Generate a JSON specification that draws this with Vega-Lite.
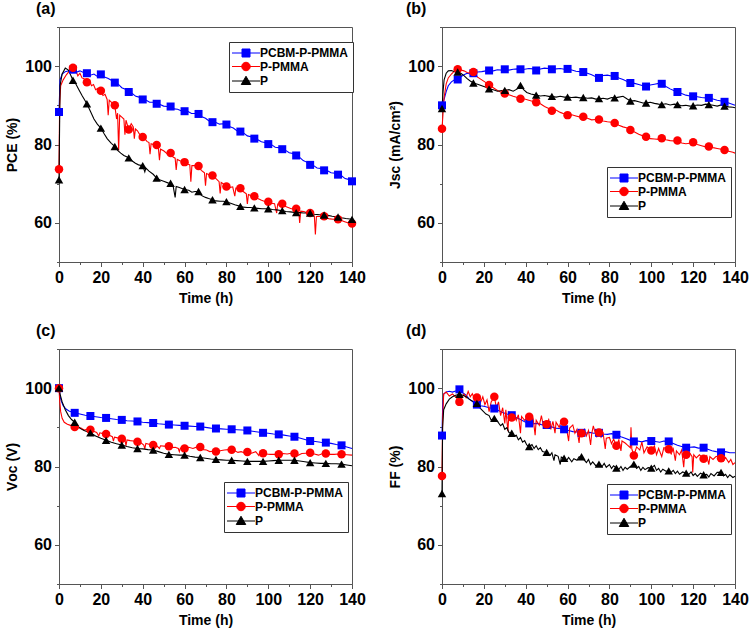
{
"$schema":"https://vega.github.io/schema/vega-lite/v6.json",
"padding":{"left":5,"top":0,"right":5,"bottom":5},
"config":{
 "font":"Liberation Sans",
 "view":{"stroke":"#555","strokeWidth":1},
 "axis":{"labelFont":"Liberation Sans","labelFontSize":16,"labelFontWeight":"bold","labelColor":"#000","titleFont":"Liberation Sans","titleFontSize":14,"titleFontWeight":"bold","titleColor":"#000","domainColor":"#555","tickColor":"#555","grid":false,"labelPadding":3,"labelFlush":false,"labelOverlap":false},
 "axisX":{"titlePadding":6},
 "axisY":{"titlePadding":5},
 "legend":{"padding":5,"strokeColor":"#333","fillColor":"white","labelFont":"Liberation Sans","labelFontSize":12,"labelFontWeight":"bold","labelColor":"#000","symbolSize":100,"symbolStrokeWidth":1,"rowPadding":0.5,"symbolOffset":6,"labelOffset":8,"title":null,"symbolOpacity":1},
 "title":{"fontSize":16,"fontWeight":"bold","font":"Liberation Sans","anchor":"start","frame":"group","offset":2,"color":"#000"}
},
"resolve":{"scale":{"color":"independent","stroke":"independent","shape":"independent"},"legend":{"color":"independent","stroke":"independent","shape":"independent"}},
"datasets":{
"a":[
{"s":"PCBM-P-PMMA","t":0,"v":88.3,"m":1},{"s":"PCBM-P-PMMA","t":0.5,"v":96.5},{"s":"PCBM-P-PMMA","t":1.5,"v":98},{"s":"PCBM-P-PMMA","t":3,"v":98.6},{"s":"PCBM-P-PMMA","t":5,"v":98.9},{"s":"PCBM-P-PMMA","t":6.67,"v":99.1,"m":1},{"s":"PCBM-P-PMMA","t":8.5,"v":98.5},{"s":"PCBM-P-PMMA","t":10,"v":98.8},{"s":"PCBM-P-PMMA","t":11.7,"v":98.4},{"s":"PCBM-P-PMMA","t":13.33,"v":98.2,"m":1},{"s":"PCBM-P-PMMA","t":15,"v":97.7},{"s":"PCBM-P-PMMA","t":16.7,"v":98.0},{"s":"PCBM-P-PMMA","t":18.3,"v":97.4},{"s":"PCBM-P-PMMA","t":20,"v":97.9,"m":1},{"s":"PCBM-P-PMMA","t":21.7,"v":97.2},{"s":"PCBM-P-PMMA","t":23.3,"v":96.9},{"s":"PCBM-P-PMMA","t":25,"v":96.4},{"s":"PCBM-P-PMMA","t":26.67,"v":95.8,"m":1},{"s":"PCBM-P-PMMA","t":28.3,"v":95.4},{"s":"PCBM-P-PMMA","t":30,"v":94.5},{"s":"PCBM-P-PMMA","t":31.7,"v":94.1},{"s":"PCBM-P-PMMA","t":33.33,"v":93.4,"m":1},{"s":"PCBM-P-PMMA","t":35,"v":93.0},{"s":"PCBM-P-PMMA","t":36.7,"v":92.3},{"s":"PCBM-P-PMMA","t":38.3,"v":92.1},{"s":"PCBM-P-PMMA","t":40,"v":91.5,"m":1},{"s":"PCBM-P-PMMA","t":41.7,"v":91.3},{"s":"PCBM-P-PMMA","t":43.3,"v":90.8},{"s":"PCBM-P-PMMA","t":45,"v":90.8},{"s":"PCBM-P-PMMA","t":46.67,"v":90.4,"m":1},{"s":"PCBM-P-PMMA","t":48.3,"v":90.2},{"s":"PCBM-P-PMMA","t":50,"v":89.8},{"s":"PCBM-P-PMMA","t":51.7,"v":89.7},{"s":"PCBM-P-PMMA","t":53.33,"v":89.7,"m":1},{"s":"PCBM-P-PMMA","t":55,"v":89.1},{"s":"PCBM-P-PMMA","t":56.7,"v":89.0},{"s":"PCBM-P-PMMA","t":58.3,"v":88.6},{"s":"PCBM-P-PMMA","t":60,"v":88.5,"m":1},{"s":"PCBM-P-PMMA","t":61.7,"v":88.4},{"s":"PCBM-P-PMMA","t":63.3,"v":87.9},{"s":"PCBM-P-PMMA","t":65,"v":87.9},{"s":"PCBM-P-PMMA","t":66.67,"v":87.8,"m":1},{"s":"PCBM-P-PMMA","t":68.3,"v":87.1},{"s":"PCBM-P-PMMA","t":70,"v":86.7},{"s":"PCBM-P-PMMA","t":71.7,"v":86.0},{"s":"PCBM-P-PMMA","t":73.33,"v":85.7,"m":1},{"s":"PCBM-P-PMMA","t":75,"v":85.6},{"s":"PCBM-P-PMMA","t":76.7,"v":85.2},{"s":"PCBM-P-PMMA","t":78.3,"v":85.3},{"s":"PCBM-P-PMMA","t":80,"v":85.1,"m":1},{"s":"PCBM-P-PMMA","t":81.7,"v":84.5},{"s":"PCBM-P-PMMA","t":83.3,"v":84.2},{"s":"PCBM-P-PMMA","t":85,"v":83.5},{"s":"PCBM-P-PMMA","t":86.67,"v":83.3,"m":1},{"s":"PCBM-P-PMMA","t":88.3,"v":82.9},{"s":"PCBM-P-PMMA","t":90,"v":82.2},{"s":"PCBM-P-PMMA","t":91.7,"v":82.0},{"s":"PCBM-P-PMMA","t":93.33,"v":81.5,"m":1},{"s":"PCBM-P-PMMA","t":95,"v":81.2},{"s":"PCBM-P-PMMA","t":96.7,"v":80.7},{"s":"PCBM-P-PMMA","t":98.3,"v":80.5},{"s":"PCBM-P-PMMA","t":100,"v":80.1,"m":1},{"s":"PCBM-P-PMMA","t":101.7,"v":79.9},{"s":"PCBM-P-PMMA","t":103.3,"v":79.3},{"s":"PCBM-P-PMMA","t":105,"v":79.2},{"s":"PCBM-P-PMMA","t":106.67,"v":78.8,"m":1},{"s":"PCBM-P-PMMA","t":108.3,"v":78.5},{"s":"PCBM-P-PMMA","t":110,"v":77.9},{"s":"PCBM-P-PMMA","t":111.7,"v":77.7},{"s":"PCBM-P-PMMA","t":113.33,"v":77.2,"m":1},{"s":"PCBM-P-PMMA","t":115,"v":76.7},{"s":"PCBM-P-PMMA","t":116.7,"v":75.9},{"s":"PCBM-P-PMMA","t":118.3,"v":75.5},{"s":"PCBM-P-PMMA","t":120,"v":74.8,"m":1},{"s":"PCBM-P-PMMA","t":121.7,"v":74.6},{"s":"PCBM-P-PMMA","t":123.3,"v":74.0},{"s":"PCBM-P-PMMA","t":125,"v":73.9},{"s":"PCBM-P-PMMA","t":126.67,"v":73.4,"m":1},{"s":"PCBM-P-PMMA","t":128.3,"v":73.3},{"s":"PCBM-P-PMMA","t":130,"v":72.8},{"s":"PCBM-P-PMMA","t":131.7,"v":72.7},{"s":"PCBM-P-PMMA","t":133.33,"v":72.3,"m":1},{"s":"PCBM-P-PMMA","t":135,"v":72.0},{"s":"PCBM-P-PMMA","t":136.7,"v":71.3},{"s":"PCBM-P-PMMA","t":138.3,"v":71.1},{"s":"PCBM-P-PMMA","t":140,"v":70.6,"m":1},
{"s":"P-PMMA","t":0,"v":73.7,"m":1},{"s":"P-PMMA","t":0.3,"v":90},{"s":"P-PMMA","t":0.8,"v":95},{"s":"P-PMMA","t":2,"v":96.5},{"s":"P-PMMA","t":3.5,"v":97.8},{"s":"P-PMMA","t":5,"v":98.8},{"s":"P-PMMA","t":6.67,"v":99.6,"m":1},{"s":"P-PMMA","t":8,"v":99.0},{"s":"P-PMMA","t":9,"v":97.5},{"s":"P-PMMA","t":10,"v":98.2},{"s":"P-PMMA","t":11,"v":97.0},{"s":"P-PMMA","t":12,"v":96.8},{"s":"P-PMMA","t":13.33,"v":95.9,"m":1},{"s":"P-PMMA","t":14.5,"v":96.5},{"s":"P-PMMA","t":15.5,"v":95.0},{"s":"P-PMMA","t":16.5,"v":95.3},{"s":"P-PMMA","t":17.5,"v":94.0},{"s":"P-PMMA","t":18.5,"v":94.3},{"s":"P-PMMA","t":20,"v":93.7,"m":1},{"s":"P-PMMA","t":21,"v":92.5},{"s":"P-PMMA","t":22,"v":92.8},{"s":"P-PMMA","t":23,"v":91.5},{"s":"P-PMMA","t":23.5,"v":87.5},{"s":"P-PMMA","t":24,"v":91.3},{"s":"P-PMMA","t":25,"v":90.8},{"s":"P-PMMA","t":26.67,"v":90.0,"m":1},{"s":"P-PMMA","t":27.5,"v":86.5},{"s":"P-PMMA","t":28,"v":88.0},{"s":"P-PMMA","t":28.5,"v":78.5},{"s":"P-PMMA","t":29,"v":87.5},{"s":"P-PMMA","t":30,"v":87.0},{"s":"P-PMMA","t":31,"v":86.5},{"s":"P-PMMA","t":31.5,"v":82.5},{"s":"P-PMMA","t":32,"v":86.2},{"s":"P-PMMA","t":33.33,"v":83.8,"m":1},{"s":"P-PMMA","t":34.5,"v":85.3},{"s":"P-PMMA","t":35.5,"v":84.5},{"s":"P-PMMA","t":36,"v":81.5},{"s":"P-PMMA","t":36.5,"v":84.0},{"s":"P-PMMA","t":37.5,"v":83.5},{"s":"P-PMMA","t":38.5,"v":82.6},{"s":"P-PMMA","t":40,"v":81.9,"m":1},{"s":"P-PMMA","t":41,"v":81.5},{"s":"P-PMMA","t":42,"v":80.8},{"s":"P-PMMA","t":43,"v":80.5},{"s":"P-PMMA","t":43.5,"v":77.5},{"s":"P-PMMA","t":44,"v":80.2},{"s":"P-PMMA","t":45,"v":80.0},{"s":"P-PMMA","t":46.67,"v":79.9,"m":1},{"s":"P-PMMA","t":47.5,"v":79.0},{"s":"P-PMMA","t":48,"v":76.0},{"s":"P-PMMA","t":48.5,"v":78.8},{"s":"P-PMMA","t":50,"v":78.4},{"s":"P-PMMA","t":51.5,"v":77.7},{"s":"P-PMMA","t":53.33,"v":77.8,"m":1},{"s":"P-PMMA","t":54.5,"v":76.8},{"s":"P-PMMA","t":55.5,"v":76.5},{"s":"P-PMMA","t":56,"v":73.5},{"s":"P-PMMA","t":56.5,"v":76.2},{"s":"P-PMMA","t":58,"v":75.8},{"s":"P-PMMA","t":60,"v":75.5,"m":1},{"s":"P-PMMA","t":61.5,"v":75.0},{"s":"P-PMMA","t":62.5,"v":74.8},{"s":"P-PMMA","t":63,"v":70.5},{"s":"P-PMMA","t":63.5,"v":74.6},{"s":"P-PMMA","t":65,"v":74.6},{"s":"P-PMMA","t":66.67,"v":74.5,"m":1},{"s":"P-PMMA","t":68,"v":73.4},{"s":"P-PMMA","t":69.5,"v":72.8},{"s":"P-PMMA","t":70,"v":69.5},{"s":"P-PMMA","t":70.5,"v":72.6},{"s":"P-PMMA","t":72,"v":72.2},{"s":"P-PMMA","t":73.33,"v":72.1,"m":1},{"s":"P-PMMA","t":75,"v":71.3},{"s":"P-PMMA","t":76.5,"v":70.5},{"s":"P-PMMA","t":77,"v":67.5},{"s":"P-PMMA","t":77.5,"v":70.3},{"s":"P-PMMA","t":79,"v":69.8},{"s":"P-PMMA","t":80,"v":69.3,"m":1},{"s":"P-PMMA","t":81.5,"v":69.0},{"s":"P-PMMA","t":83,"v":69.2},{"s":"P-PMMA","t":84,"v":66.8},{"s":"P-PMMA","t":84.5,"v":68.9},{"s":"P-PMMA","t":86.67,"v":68.8,"m":1},{"s":"P-PMMA","t":88,"v":68.0},{"s":"P-PMMA","t":89.5,"v":67.4},{"s":"P-PMMA","t":90,"v":64.8},{"s":"P-PMMA","t":90.5,"v":67.2},{"s":"P-PMMA","t":92,"v":66.9},{"s":"P-PMMA","t":93.33,"v":66.8,"m":1},{"s":"P-PMMA","t":95,"v":66.2},{"s":"P-PMMA","t":96.5,"v":65.8},{"s":"P-PMMA","t":98,"v":65.5},{"s":"P-PMMA","t":100,"v":65.4,"m":1},{"s":"P-PMMA","t":101.5,"v":65.0},{"s":"P-PMMA","t":103,"v":64.9},{"s":"P-PMMA","t":104,"v":62.5},{"s":"P-PMMA","t":104.5,"v":64.8},{"s":"P-PMMA","t":106.67,"v":64.9,"m":1},{"s":"P-PMMA","t":108,"v":64.2},{"s":"P-PMMA","t":109.5,"v":63.9},{"s":"P-PMMA","t":111,"v":63.6},{"s":"P-PMMA","t":113.33,"v":63.6,"m":1},{"s":"P-PMMA","t":114.5,"v":63.2},{"s":"P-PMMA","t":115,"v":60.0},{"s":"P-PMMA","t":115.5,"v":63.0},{"s":"P-PMMA","t":117,"v":62.9},{"s":"P-PMMA","t":118.5,"v":62.6},{"s":"P-PMMA","t":120,"v":62.5,"m":1},{"s":"P-PMMA","t":121,"v":62.0},{"s":"P-PMMA","t":122,"v":61.8},{"s":"P-PMMA","t":122.5,"v":57.0},{"s":"P-PMMA","t":123,"v":61.6},{"s":"P-PMMA","t":125,"v":61.6},{"s":"P-PMMA","t":126.67,"v":61.7,"m":1},{"s":"P-PMMA","t":128,"v":61.2},{"s":"P-PMMA","t":129.5,"v":61.0},{"s":"P-PMMA","t":131,"v":60.9},{"s":"P-PMMA","t":133.33,"v":60.9,"m":1},{"s":"P-PMMA","t":135,"v":60.6},{"s":"P-PMMA","t":136.5,"v":60.3},{"s":"P-PMMA","t":138,"v":60.0},{"s":"P-PMMA","t":140,"v":59.8,"m":1},
{"s":"P","t":0,"v":71.0,"m":1},{"s":"P","t":0.5,"v":95.0},{"s":"P","t":1.5,"v":98.0},{"s":"P","t":3,"v":99.5},{"s":"P","t":4.5,"v":99.0},{"s":"P","t":6.67,"v":96.4,"m":1},{"s":"P","t":8,"v":95.5},{"s":"P","t":9.5,"v":94.0},{"s":"P","t":11,"v":92.5},{"s":"P","t":13.33,"v":90.4,"m":1},{"s":"P","t":15,"v":88.5},{"s":"P","t":16.7,"v":86.5},{"s":"P","t":18.3,"v":85.2},{"s":"P","t":20,"v":84.2,"m":1},{"s":"P","t":21.5,"v":82.8},{"s":"P","t":23,"v":81.5},{"s":"P","t":25,"v":80.3},{"s":"P","t":26.67,"v":79.5,"m":1},{"s":"P","t":28,"v":78.5},{"s":"P","t":29.5,"v":77.8},{"s":"P","t":31,"v":77.2},{"s":"P","t":33.33,"v":76.6,"m":1},{"s":"P","t":35,"v":75.8},{"s":"P","t":36.5,"v":75.2},{"s":"P","t":38,"v":74.8},{"s":"P","t":40,"v":74.6,"m":1},{"s":"P","t":41,"v":73.0},{"s":"P","t":41.5,"v":74.0},{"s":"P","t":43,"v":73.2},{"s":"P","t":45,"v":72.4},{"s":"P","t":46.67,"v":71.4,"m":1},{"s":"P","t":48,"v":71.0},{"s":"P","t":50,"v":70.6},{"s":"P","t":52,"v":70.2},{"s":"P","t":53.33,"v":70.1,"m":1},{"s":"P","t":54.5,"v":69.5},{"s":"P","t":55.5,"v":66.5},{"s":"P","t":56,"v":69.3},{"s":"P","t":57.5,"v":69.0},{"s":"P","t":60,"v":68.5,"m":1},{"s":"P","t":62,"v":68.3},{"s":"P","t":63.5,"v":67.8},{"s":"P","t":65,"v":68.0},{"s":"P","t":66.67,"v":68.0,"m":1},{"s":"P","t":68,"v":67.0},{"s":"P","t":70,"v":66.5},{"s":"P","t":71.5,"v":66.2},{"s":"P","t":73.33,"v":65.9,"m":1},{"s":"P","t":75,"v":65.6},{"s":"P","t":77,"v":65.5},{"s":"P","t":78.5,"v":65.5},{"s":"P","t":80,"v":65.4,"m":1},{"s":"P","t":82,"v":65.0},{"s":"P","t":84,"v":64.6},{"s":"P","t":86.67,"v":64.2,"m":1},{"s":"P","t":88,"v":64.0},{"s":"P","t":90,"v":63.9},{"s":"P","t":91.5,"v":63.9},{"s":"P","t":93.33,"v":63.8,"m":1},{"s":"P","t":95,"v":63.7},{"s":"P","t":97,"v":63.6},{"s":"P","t":100,"v":63.6,"m":1},{"s":"P","t":102,"v":63.4},{"s":"P","t":104,"v":63.3},{"s":"P","t":106.67,"v":63.1,"m":1},{"s":"P","t":108.5,"v":62.9},{"s":"P","t":110.5,"v":62.8},{"s":"P","t":113.33,"v":62.6,"m":1},{"s":"P","t":115,"v":62.6},{"s":"P","t":117,"v":62.5},{"s":"P","t":120,"v":62.5,"m":1},{"s":"P","t":122,"v":62.2},{"s":"P","t":124,"v":62.1},{"s":"P","t":126.67,"v":62.0,"m":1},{"s":"P","t":128.5,"v":61.9},{"s":"P","t":130.5,"v":61.7},{"s":"P","t":133.33,"v":61.5,"m":1},{"s":"P","t":135,"v":61.3},{"s":"P","t":137,"v":61.1},{"s":"P","t":140,"v":60.9,"m":1}
],
"b":[
{"s":"PCBM-P-PMMA","t":0,"v":90,"m":1},{"s":"PCBM-P-PMMA","t":1,"v":91.5},{"s":"PCBM-P-PMMA","t":2,"v":93.5},{"s":"PCBM-P-PMMA","t":3,"v":95},{"s":"PCBM-P-PMMA","t":4.5,"v":96},{"s":"PCBM-P-PMMA","t":6,"v":96.5},{"s":"PCBM-P-PMMA","t":7.5,"v":96.6,"m":1},{"s":"PCBM-P-PMMA","t":9,"v":97.3},{"s":"PCBM-P-PMMA","t":10.5,"v":97.8},{"s":"PCBM-P-PMMA","t":12,"v":98.2},{"s":"PCBM-P-PMMA","t":13.5,"v":98.0},{"s":"PCBM-P-PMMA","t":15,"v":98.2,"m":1},{"s":"PCBM-P-PMMA","t":17,"v":98.5},{"s":"PCBM-P-PMMA","t":19,"v":98.6},{"s":"PCBM-P-PMMA","t":21,"v":98.8},{"s":"PCBM-P-PMMA","t":22.5,"v":98.9,"m":1},{"s":"PCBM-P-PMMA","t":24.5,"v":98.8},{"s":"PCBM-P-PMMA","t":26.5,"v":99.1},{"s":"PCBM-P-PMMA","t":28.5,"v":99.0},{"s":"PCBM-P-PMMA","t":30,"v":99.2,"m":1},{"s":"PCBM-P-PMMA","t":32,"v":99.0},{"s":"PCBM-P-PMMA","t":34,"v":99.2},{"s":"PCBM-P-PMMA","t":36,"v":99.3},{"s":"PCBM-P-PMMA","t":37.5,"v":99.2,"m":1},{"s":"PCBM-P-PMMA","t":39.5,"v":99.2},{"s":"PCBM-P-PMMA","t":41.5,"v":99.4},{"s":"PCBM-P-PMMA","t":43.5,"v":99.3},{"s":"PCBM-P-PMMA","t":45,"v":98.9,"m":1},{"s":"PCBM-P-PMMA","t":47,"v":99.3},{"s":"PCBM-P-PMMA","t":49,"v":99.5},{"s":"PCBM-P-PMMA","t":51,"v":99.4},{"s":"PCBM-P-PMMA","t":52.5,"v":99.2,"m":1},{"s":"PCBM-P-PMMA","t":54.5,"v":99.3},{"s":"PCBM-P-PMMA","t":56.5,"v":99.4},{"s":"PCBM-P-PMMA","t":58.5,"v":99.2},{"s":"PCBM-P-PMMA","t":60,"v":99.3,"m":1},{"s":"PCBM-P-PMMA","t":62,"v":99.0},{"s":"PCBM-P-PMMA","t":64,"v":98.7},{"s":"PCBM-P-PMMA","t":66,"v":98.6},{"s":"PCBM-P-PMMA","t":67.5,"v":98.5,"m":1},{"s":"PCBM-P-PMMA","t":69.5,"v":98.2},{"s":"PCBM-P-PMMA","t":71.5,"v":97.8},{"s":"PCBM-P-PMMA","t":73.5,"v":97.3},{"s":"PCBM-P-PMMA","t":75,"v":97.0,"m":1},{"s":"PCBM-P-PMMA","t":77,"v":97.6},{"s":"PCBM-P-PMMA","t":79,"v":97.7},{"s":"PCBM-P-PMMA","t":81,"v":97.5},{"s":"PCBM-P-PMMA","t":82.5,"v":97.5,"m":1},{"s":"PCBM-P-PMMA","t":84.5,"v":97.0},{"s":"PCBM-P-PMMA","t":86.5,"v":96.6},{"s":"PCBM-P-PMMA","t":88.5,"v":96.1},{"s":"PCBM-P-PMMA","t":90,"v":95.7,"m":1},{"s":"PCBM-P-PMMA","t":92,"v":95.6},{"s":"PCBM-P-PMMA","t":94,"v":95.3},{"s":"PCBM-P-PMMA","t":96,"v":95.0},{"s":"PCBM-P-PMMA","t":97.5,"v":94.8,"m":1},{"s":"PCBM-P-PMMA","t":99.5,"v":95.2},{"s":"PCBM-P-PMMA","t":101.5,"v":95.4},{"s":"PCBM-P-PMMA","t":103.5,"v":95.6},{"s":"PCBM-P-PMMA","t":105,"v":95.5,"m":1},{"s":"PCBM-P-PMMA","t":107,"v":94.8},{"s":"PCBM-P-PMMA","t":109,"v":94.2},{"s":"PCBM-P-PMMA","t":111,"v":93.7},{"s":"PCBM-P-PMMA","t":112.5,"v":93.4,"m":1},{"s":"PCBM-P-PMMA","t":114.5,"v":93.0},{"s":"PCBM-P-PMMA","t":116.5,"v":92.6},{"s":"PCBM-P-PMMA","t":118.5,"v":92.4},{"s":"PCBM-P-PMMA","t":120,"v":92.3,"m":1},{"s":"PCBM-P-PMMA","t":122,"v":92.2},{"s":"PCBM-P-PMMA","t":124,"v":92.0},{"s":"PCBM-P-PMMA","t":126,"v":91.9},{"s":"PCBM-P-PMMA","t":127.5,"v":91.9,"m":1},{"s":"PCBM-P-PMMA","t":129.5,"v":91.6},{"s":"PCBM-P-PMMA","t":131.5,"v":91.3},{"s":"PCBM-P-PMMA","t":133.5,"v":91.1},{"s":"PCBM-P-PMMA","t":135,"v":90.9,"m":1},{"s":"PCBM-P-PMMA","t":137,"v":90.6},{"s":"PCBM-P-PMMA","t":139,"v":90.2},{"s":"PCBM-P-PMMA","t":140,"v":90.0},
{"s":"P-PMMA","t":0,"v":84.0,"m":1},{"s":"P-PMMA","t":0.5,"v":88},{"s":"P-PMMA","t":1,"v":92},{"s":"P-PMMA","t":2,"v":95.5},{"s":"P-PMMA","t":3,"v":97},{"s":"P-PMMA","t":4.5,"v":98},{"s":"P-PMMA","t":6,"v":98.8},{"s":"P-PMMA","t":7.5,"v":99.2,"m":1},{"s":"P-PMMA","t":9,"v":99.0},{"s":"P-PMMA","t":10.5,"v":98.8},{"s":"P-PMMA","t":12,"v":98.4},{"s":"P-PMMA","t":13.5,"v":98.2},{"s":"P-PMMA","t":15,"v":98.5,"m":1},{"s":"P-PMMA","t":17,"v":97.2},{"s":"P-PMMA","t":19,"v":96.5},{"s":"P-PMMA","t":21,"v":95.8},{"s":"P-PMMA","t":22.5,"v":95.2,"m":1},{"s":"P-PMMA","t":24.5,"v":94.5},{"s":"P-PMMA","t":26.5,"v":93.8},{"s":"P-PMMA","t":28.5,"v":93.3},{"s":"P-PMMA","t":30,"v":93.0,"m":1},{"s":"P-PMMA","t":32,"v":92.7},{"s":"P-PMMA","t":34,"v":92.3},{"s":"P-PMMA","t":36,"v":92.0},{"s":"P-PMMA","t":37.5,"v":91.7,"m":1},{"s":"P-PMMA","t":39.5,"v":91.6},{"s":"P-PMMA","t":41.5,"v":91.3},{"s":"P-PMMA","t":43.5,"v":91.0},{"s":"P-PMMA","t":45,"v":90.8,"m":1},{"s":"P-PMMA","t":47,"v":90.4},{"s":"P-PMMA","t":49,"v":89.7},{"s":"P-PMMA","t":51,"v":89.2},{"s":"P-PMMA","t":52.5,"v":88.6,"m":1},{"s":"P-PMMA","t":54.5,"v":88.8},{"s":"P-PMMA","t":56.5,"v":88.2},{"s":"P-PMMA","t":58.5,"v":87.8},{"s":"P-PMMA","t":60,"v":87.5,"m":1},{"s":"P-PMMA","t":62,"v":87.6},{"s":"P-PMMA","t":64,"v":87.3},{"s":"P-PMMA","t":66,"v":87.0},{"s":"P-PMMA","t":67.5,"v":87.1,"m":1},{"s":"P-PMMA","t":69.5,"v":86.7},{"s":"P-PMMA","t":71.5,"v":86.3},{"s":"P-PMMA","t":73.5,"v":86.4},{"s":"P-PMMA","t":75,"v":86.4,"m":1},{"s":"P-PMMA","t":77,"v":86.0},{"s":"P-PMMA","t":79,"v":85.8},{"s":"P-PMMA","t":81,"v":85.7},{"s":"P-PMMA","t":82.5,"v":85.5,"m":1},{"s":"P-PMMA","t":84.5,"v":84.9},{"s":"P-PMMA","t":86.5,"v":84.5},{"s":"P-PMMA","t":88.5,"v":84.2},{"s":"P-PMMA","t":90,"v":83.7,"m":1},{"s":"P-PMMA","t":92,"v":83.2},{"s":"P-PMMA","t":94,"v":82.6},{"s":"P-PMMA","t":96,"v":82.2},{"s":"P-PMMA","t":97.5,"v":82.0,"m":1},{"s":"P-PMMA","t":99.5,"v":81.5},{"s":"P-PMMA","t":101.5,"v":81.4},{"s":"P-PMMA","t":103.5,"v":81.3},{"s":"P-PMMA","t":105,"v":81.6,"m":1},{"s":"P-PMMA","t":107,"v":81.2},{"s":"P-PMMA","t":109,"v":81.0},{"s":"P-PMMA","t":111,"v":80.9},{"s":"P-PMMA","t":112.5,"v":81.0,"m":1},{"s":"P-PMMA","t":114.5,"v":80.4},{"s":"P-PMMA","t":116.5,"v":80.2},{"s":"P-PMMA","t":118.5,"v":80.3},{"s":"P-PMMA","t":120,"v":80.6,"m":1},{"s":"P-PMMA","t":122,"v":80.0},{"s":"P-PMMA","t":124,"v":79.7},{"s":"P-PMMA","t":126,"v":79.4},{"s":"P-PMMA","t":127.5,"v":79.5,"m":1},{"s":"P-PMMA","t":129.5,"v":79.2},{"s":"P-PMMA","t":131.5,"v":79.0},{"s":"P-PMMA","t":133.5,"v":78.8},{"s":"P-PMMA","t":135,"v":78.6,"m":1},{"s":"P-PMMA","t":137,"v":78.3},{"s":"P-PMMA","t":139,"v":78.0},{"s":"P-PMMA","t":140,"v":77.8},
{"s":"P","t":0,"v":89.2,"m":1},{"s":"P","t":0.5,"v":93.5},{"s":"P","t":1,"v":96.5},{"s":"P","t":2,"v":98.2},{"s":"P","t":3,"v":98.8},{"s":"P","t":4.5,"v":98.9},{"s":"P","t":6,"v":98.6},{"s":"P","t":7.5,"v":98.5,"m":1},{"s":"P","t":9,"v":98.2},{"s":"P","t":10.5,"v":97.6},{"s":"P","t":12,"v":96.8},{"s":"P","t":13.5,"v":96.2},{"s":"P","t":15,"v":95.7,"m":1},{"s":"P","t":17,"v":95.4},{"s":"P","t":19,"v":95.0},{"s":"P","t":21,"v":94.6},{"s":"P","t":22.5,"v":94.2,"m":1},{"s":"P","t":24.5,"v":94.0},{"s":"P","t":26.5,"v":93.6},{"s":"P","t":28.5,"v":93.8},{"s":"P","t":30,"v":93.8,"m":1},{"s":"P","t":32,"v":94.0},{"s":"P","t":34,"v":93.6},{"s":"P","t":36,"v":94.2},{"s":"P","t":37.5,"v":95.1,"m":1},{"s":"P","t":39,"v":94.0},{"s":"P","t":40.5,"v":93.3},{"s":"P","t":42.5,"v":92.9},{"s":"P","t":45,"v":92.6,"m":1},{"s":"P","t":47,"v":92.4},{"s":"P","t":49,"v":92.5},{"s":"P","t":51,"v":92.3},{"s":"P","t":52.5,"v":92.3,"m":1},{"s":"P","t":54.5,"v":92.1},{"s":"P","t":56.5,"v":92.3},{"s":"P","t":58.5,"v":92.1},{"s":"P","t":60,"v":92.1,"m":1},{"s":"P","t":62,"v":92.0},{"s":"P","t":64,"v":92.1},{"s":"P","t":66,"v":91.9},{"s":"P","t":67.5,"v":92.0,"m":1},{"s":"P","t":69.5,"v":91.8},{"s":"P","t":71.5,"v":91.9},{"s":"P","t":73.5,"v":91.6},{"s":"P","t":75,"v":91.7,"m":1},{"s":"P","t":77,"v":91.8},{"s":"P","t":79,"v":91.6},{"s":"P","t":81,"v":92.0},{"s":"P","t":82.5,"v":91.9,"m":1},{"s":"P","t":84.5,"v":92.1},{"s":"P","t":86.5,"v":92.3},{"s":"P","t":88.5,"v":91.6},{"s":"P","t":90,"v":91.1,"m":1},{"s":"P","t":92,"v":91.2},{"s":"P","t":94,"v":90.9},{"s":"P","t":96,"v":90.6},{"s":"P","t":97.5,"v":90.6,"m":1},{"s":"P","t":99.5,"v":90.8},{"s":"P","t":101.5,"v":90.5},{"s":"P","t":103.5,"v":90.3},{"s":"P","t":105,"v":90.2,"m":1},{"s":"P","t":107,"v":90.4},{"s":"P","t":109,"v":90.1},{"s":"P","t":111,"v":90.3},{"s":"P","t":112.5,"v":90.2,"m":1},{"s":"P","t":114.5,"v":89.9},{"s":"P","t":116.5,"v":90.0},{"s":"P","t":118.5,"v":89.8},{"s":"P","t":120,"v":89.9,"m":1},{"s":"P","t":122,"v":90.1},{"s":"P","t":124,"v":90.0},{"s":"P","t":126,"v":90.3},{"s":"P","t":127.5,"v":90.2,"m":1},{"s":"P","t":129.5,"v":90.0},{"s":"P","t":131.5,"v":89.8},{"s":"P","t":133.5,"v":90.1},{"s":"P","t":135,"v":89.8,"m":1},{"s":"P","t":137,"v":89.6},{"s":"P","t":139,"v":89.5},{"s":"P","t":140,"v":89.4}
],
"c":[
{"s":"PCBM-P-PMMA","t":0,"v":100,"m":1},{"s":"PCBM-P-PMMA","t":0.5,"v":98},{"s":"PCBM-P-PMMA","t":1,"v":96.8},{"s":"PCBM-P-PMMA","t":2,"v":95.5},{"s":"PCBM-P-PMMA","t":3.5,"v":94.6},{"s":"PCBM-P-PMMA","t":5,"v":94.1},{"s":"PCBM-P-PMMA","t":7.5,"v":93.7,"m":1},{"s":"PCBM-P-PMMA","t":10,"v":93.4},{"s":"PCBM-P-PMMA","t":12.5,"v":93.1},{"s":"PCBM-P-PMMA","t":15,"v":92.9,"m":1},{"s":"PCBM-P-PMMA","t":17.5,"v":92.7},{"s":"PCBM-P-PMMA","t":20,"v":92.5},{"s":"PCBM-P-PMMA","t":22.5,"v":92.4,"m":1},{"s":"PCBM-P-PMMA","t":25,"v":92.2},{"s":"PCBM-P-PMMA","t":27.5,"v":92.0},{"s":"PCBM-P-PMMA","t":30,"v":91.9,"m":1},{"s":"PCBM-P-PMMA","t":32.5,"v":91.7},{"s":"PCBM-P-PMMA","t":35,"v":91.6},{"s":"PCBM-P-PMMA","t":37.5,"v":91.5,"m":1},{"s":"PCBM-P-PMMA","t":40,"v":91.3},{"s":"PCBM-P-PMMA","t":42.5,"v":91.2},{"s":"PCBM-P-PMMA","t":45,"v":91.1,"m":1},{"s":"PCBM-P-PMMA","t":47.5,"v":90.9},{"s":"PCBM-P-PMMA","t":50,"v":90.8},{"s":"PCBM-P-PMMA","t":52.5,"v":90.7,"m":1},{"s":"PCBM-P-PMMA","t":55,"v":90.6},{"s":"PCBM-P-PMMA","t":57.5,"v":90.5},{"s":"PCBM-P-PMMA","t":60,"v":90.4,"m":1},{"s":"PCBM-P-PMMA","t":62.5,"v":90.3},{"s":"PCBM-P-PMMA","t":65,"v":90.2},{"s":"PCBM-P-PMMA","t":67.5,"v":90.2,"m":1},{"s":"PCBM-P-PMMA","t":70,"v":90.0},{"s":"PCBM-P-PMMA","t":72.5,"v":89.8},{"s":"PCBM-P-PMMA","t":75,"v":89.7,"m":1},{"s":"PCBM-P-PMMA","t":77.5,"v":89.6},{"s":"PCBM-P-PMMA","t":80,"v":89.5},{"s":"PCBM-P-PMMA","t":82.5,"v":89.5,"m":1},{"s":"PCBM-P-PMMA","t":85,"v":89.4},{"s":"PCBM-P-PMMA","t":87.5,"v":89.3},{"s":"PCBM-P-PMMA","t":90,"v":89.2,"m":1},{"s":"PCBM-P-PMMA","t":92.5,"v":89.0},{"s":"PCBM-P-PMMA","t":95,"v":88.8},{"s":"PCBM-P-PMMA","t":97.5,"v":88.6,"m":1},{"s":"PCBM-P-PMMA","t":100,"v":88.5},{"s":"PCBM-P-PMMA","t":102.5,"v":88.3},{"s":"PCBM-P-PMMA","t":105,"v":88.2,"m":1},{"s":"PCBM-P-PMMA","t":107.5,"v":88.0},{"s":"PCBM-P-PMMA","t":110,"v":87.8},{"s":"PCBM-P-PMMA","t":112.5,"v":87.6,"m":1},{"s":"PCBM-P-PMMA","t":115,"v":87.3},{"s":"PCBM-P-PMMA","t":117.5,"v":86.9},{"s":"PCBM-P-PMMA","t":120,"v":86.5,"m":1},{"s":"PCBM-P-PMMA","t":122.5,"v":86.4},{"s":"PCBM-P-PMMA","t":125,"v":86.2},{"s":"PCBM-P-PMMA","t":127.5,"v":86.1,"m":1},{"s":"PCBM-P-PMMA","t":130,"v":85.9},{"s":"PCBM-P-PMMA","t":132.5,"v":85.6},{"s":"PCBM-P-PMMA","t":135,"v":85.4,"m":1},{"s":"PCBM-P-PMMA","t":137.5,"v":85.0},{"s":"PCBM-P-PMMA","t":140,"v":84.6},
{"s":"P-PMMA","t":0,"v":100,"m":1},{"s":"P-PMMA","t":0.3,"v":97},{"s":"P-PMMA","t":0.8,"v":94},{"s":"P-PMMA","t":1.5,"v":92.3},{"s":"P-PMMA","t":2.5,"v":91.3},{"s":"P-PMMA","t":4,"v":90.8},{"s":"P-PMMA","t":5.5,"v":90.5},{"s":"P-PMMA","t":7.5,"v":90.1,"m":1},{"s":"P-PMMA","t":9,"v":89.9},{"s":"P-PMMA","t":10.5,"v":89.8},{"s":"P-PMMA","t":12,"v":89.3},{"s":"P-PMMA","t":13.5,"v":89.5},{"s":"P-PMMA","t":15,"v":89.4,"m":1},{"s":"P-PMMA","t":16.5,"v":89.0},{"s":"P-PMMA","t":18,"v":88.7},{"s":"P-PMMA","t":19,"v":87.8},{"s":"P-PMMA","t":19.5,"v":88.6},{"s":"P-PMMA","t":21,"v":88.4},{"s":"P-PMMA","t":22.5,"v":88.3,"m":1},{"s":"P-PMMA","t":24,"v":88.0},{"s":"P-PMMA","t":25.5,"v":87.6},{"s":"P-PMMA","t":26,"v":86.5},{"s":"P-PMMA","t":26.5,"v":87.5},{"s":"P-PMMA","t":28,"v":87.3},{"s":"P-PMMA","t":30,"v":87.1,"m":1},{"s":"P-PMMA","t":31.5,"v":86.9},{"s":"P-PMMA","t":32,"v":85.3},{"s":"P-PMMA","t":32.5,"v":86.8},{"s":"P-PMMA","t":34,"v":86.6},{"s":"P-PMMA","t":35.5,"v":86.5},{"s":"P-PMMA","t":37.5,"v":86.3,"m":1},{"s":"P-PMMA","t":39,"v":86.1},{"s":"P-PMMA","t":40.5,"v":85.5},{"s":"P-PMMA","t":41,"v":84.5},{"s":"P-PMMA","t":41.5,"v":85.9},{"s":"P-PMMA","t":43,"v":85.7},{"s":"P-PMMA","t":45,"v":85.5,"m":1},{"s":"P-PMMA","t":46.5,"v":85.4},{"s":"P-PMMA","t":48,"v":84.6},{"s":"P-PMMA","t":48.5,"v":85.3},{"s":"P-PMMA","t":50,"v":85.2},{"s":"P-PMMA","t":52.5,"v":85.2,"m":1},{"s":"P-PMMA","t":54,"v":84.8},{"s":"P-PMMA","t":55.5,"v":84.9},{"s":"P-PMMA","t":57,"v":84.6},{"s":"P-PMMA","t":57.5,"v":83.8},{"s":"P-PMMA","t":58,"v":84.7},{"s":"P-PMMA","t":60,"v":84.6,"m":1},{"s":"P-PMMA","t":62,"v":84.9},{"s":"P-PMMA","t":64,"v":84.6},{"s":"P-PMMA","t":66,"v":85.0},{"s":"P-PMMA","t":67.5,"v":85.0,"m":1},{"s":"P-PMMA","t":69,"v":84.3},{"s":"P-PMMA","t":70.5,"v":84.2},{"s":"P-PMMA","t":72,"v":83.8},{"s":"P-PMMA","t":73.5,"v":83.9},{"s":"P-PMMA","t":75,"v":83.8,"m":1},{"s":"P-PMMA","t":77,"v":84.0},{"s":"P-PMMA","t":79,"v":84.2},{"s":"P-PMMA","t":81,"v":84.3},{"s":"P-PMMA","t":82.5,"v":84.3,"m":1},{"s":"P-PMMA","t":84,"v":84.0},{"s":"P-PMMA","t":85.5,"v":83.6},{"s":"P-PMMA","t":87,"v":83.8},{"s":"P-PMMA","t":88.5,"v":83.5},{"s":"P-PMMA","t":90,"v":83.7,"m":1},{"s":"P-PMMA","t":92,"v":83.4},{"s":"P-PMMA","t":94,"v":83.8},{"s":"P-PMMA","t":95.5,"v":82.8},{"s":"P-PMMA","t":96,"v":83.6},{"s":"P-PMMA","t":97.5,"v":83.4,"m":1},{"s":"P-PMMA","t":99,"v":83.2},{"s":"P-PMMA","t":101,"v":83.1},{"s":"P-PMMA","t":103,"v":83.1},{"s":"P-PMMA","t":105,"v":83.1,"m":1},{"s":"P-PMMA","t":107,"v":83.3},{"s":"P-PMMA","t":109,"v":83.2},{"s":"P-PMMA","t":111,"v":83.4},{"s":"P-PMMA","t":112.5,"v":83.3,"m":1},{"s":"P-PMMA","t":114,"v":82.8},{"s":"P-PMMA","t":116,"v":83.3},{"s":"P-PMMA","t":118,"v":83.4},{"s":"P-PMMA","t":120,"v":83.5,"m":1},{"s":"P-PMMA","t":122,"v":83.2},{"s":"P-PMMA","t":124,"v":82.9},{"s":"P-PMMA","t":126,"v":83.3},{"s":"P-PMMA","t":127.5,"v":83.3,"m":1},{"s":"P-PMMA","t":129.5,"v":83.1},{"s":"P-PMMA","t":131.5,"v":83.1},{"s":"P-PMMA","t":133.5,"v":83.2},{"s":"P-PMMA","t":135,"v":83.1,"m":1},{"s":"P-PMMA","t":137.5,"v":83.0},{"s":"P-PMMA","t":140,"v":82.9},
{"s":"P","t":0,"v":100,"m":1},{"s":"P","t":0.5,"v":98.5},{"s":"P","t":1.5,"v":96.5},{"s":"P","t":3,"v":94.5},{"s":"P","t":4.5,"v":93.0},{"s":"P","t":6,"v":92.0},{"s":"P","t":7.5,"v":91.3,"m":1},{"s":"P","t":9,"v":90.3},{"s":"P","t":10.5,"v":89.6},{"s":"P","t":12,"v":89.2},{"s":"P","t":13.5,"v":88.9},{"s":"P","t":15,"v":88.6,"m":1},{"s":"P","t":17.5,"v":87.8},{"s":"P","t":20,"v":87.2},{"s":"P","t":22.5,"v":86.7,"m":1},{"s":"P","t":25,"v":86.2},{"s":"P","t":27.5,"v":85.8},{"s":"P","t":30,"v":85.5,"m":1},{"s":"P","t":32.5,"v":85.1},{"s":"P","t":35,"v":84.8},{"s":"P","t":37.5,"v":84.6,"m":1},{"s":"P","t":40,"v":84.5},{"s":"P","t":42.5,"v":84.3},{"s":"P","t":45,"v":84.2,"m":1},{"s":"P","t":47.5,"v":83.8},{"s":"P","t":50,"v":83.4},{"s":"P","t":52.5,"v":83.1,"m":1},{"s":"P","t":55,"v":83.0},{"s":"P","t":57.5,"v":82.9},{"s":"P","t":60,"v":82.9,"m":1},{"s":"P","t":62.5,"v":82.6},{"s":"P","t":65,"v":82.4},{"s":"P","t":67.5,"v":82.3,"m":1},{"s":"P","t":70,"v":82.1},{"s":"P","t":72.5,"v":81.9},{"s":"P","t":75,"v":81.8,"m":1},{"s":"P","t":77.5,"v":81.7},{"s":"P","t":80,"v":81.6},{"s":"P","t":82.5,"v":81.6,"m":1},{"s":"P","t":85,"v":81.5},{"s":"P","t":87.5,"v":81.4},{"s":"P","t":90,"v":81.3,"m":1},{"s":"P","t":92.5,"v":81.3},{"s":"P","t":95,"v":81.3},{"s":"P","t":97.5,"v":81.3,"m":1},{"s":"P","t":100,"v":81.4},{"s":"P","t":102.5,"v":81.5},{"s":"P","t":105,"v":81.6,"m":1},{"s":"P","t":107.5,"v":81.6},{"s":"P","t":110,"v":81.6},{"s":"P","t":112.5,"v":81.6,"m":1},{"s":"P","t":115,"v":81.4},{"s":"P","t":117.5,"v":81.2},{"s":"P","t":120,"v":81.0,"m":1},{"s":"P","t":122.5,"v":80.9},{"s":"P","t":125,"v":80.8},{"s":"P","t":127.5,"v":80.8,"m":1},{"s":"P","t":130,"v":80.7},{"s":"P","t":132.5,"v":80.7},{"s":"P","t":135,"v":80.6,"m":1},{"s":"P","t":137.5,"v":80.4},{"s":"P","t":140,"v":80.2}
],
"d":[
{"s":"PCBM-P-PMMA","t":0,"v":87.9,"m":1},{"s":"PCBM-P-PMMA","t":0.3,"v":95},{"s":"PCBM-P-PMMA","t":0.8,"v":98.5},{"s":"PCBM-P-PMMA","t":2,"v":99.0},{"s":"PCBM-P-PMMA","t":3.5,"v":99.2},{"s":"PCBM-P-PMMA","t":5,"v":99.0},{"s":"PCBM-P-PMMA","t":6.5,"v":99.3},{"s":"PCBM-P-PMMA","t":8.33,"v":99.7,"m":1},{"s":"PCBM-P-PMMA","t":10,"v":98.8},{"s":"PCBM-P-PMMA","t":11.5,"v":98.2},{"s":"PCBM-P-PMMA","t":13,"v":97.2},{"s":"PCBM-P-PMMA","t":14.8,"v":96.5},{"s":"PCBM-P-PMMA","t":16.67,"v":95.8,"m":1},{"s":"PCBM-P-PMMA","t":18.5,"v":95.5},{"s":"PCBM-P-PMMA","t":20.5,"v":95.3},{"s":"PCBM-P-PMMA","t":22.5,"v":95.0},{"s":"PCBM-P-PMMA","t":25,"v":94.8,"m":1},{"s":"PCBM-P-PMMA","t":27,"v":94.3},{"s":"PCBM-P-PMMA","t":29,"v":93.8},{"s":"PCBM-P-PMMA","t":31,"v":93.4},{"s":"PCBM-P-PMMA","t":33.33,"v":93.1,"m":1},{"s":"PCBM-P-PMMA","t":35.5,"v":92.5},{"s":"PCBM-P-PMMA","t":37.5,"v":92.0},{"s":"PCBM-P-PMMA","t":39.5,"v":91.4},{"s":"PCBM-P-PMMA","t":41.67,"v":91.0,"m":1},{"s":"PCBM-P-PMMA","t":43.5,"v":90.9},{"s":"PCBM-P-PMMA","t":45.5,"v":91.0},{"s":"PCBM-P-PMMA","t":47.5,"v":90.7},{"s":"PCBM-P-PMMA","t":50,"v":90.6,"m":1},{"s":"PCBM-P-PMMA","t":52,"v":90.2},{"s":"PCBM-P-PMMA","t":54,"v":89.8},{"s":"PCBM-P-PMMA","t":56,"v":89.7},{"s":"PCBM-P-PMMA","t":58.33,"v":89.5,"m":1},{"s":"PCBM-P-PMMA","t":60.5,"v":89.2},{"s":"PCBM-P-PMMA","t":62.5,"v":88.9},{"s":"PCBM-P-PMMA","t":64.5,"v":88.8},{"s":"PCBM-P-PMMA","t":66.67,"v":88.6,"m":1},{"s":"PCBM-P-PMMA","t":68.5,"v":88.5},{"s":"PCBM-P-PMMA","t":70.5,"v":88.7},{"s":"PCBM-P-PMMA","t":72.5,"v":88.5},{"s":"PCBM-P-PMMA","t":75,"v":88.6,"m":1},{"s":"PCBM-P-PMMA","t":77,"v":88.3},{"s":"PCBM-P-PMMA","t":79,"v":88.2},{"s":"PCBM-P-PMMA","t":81,"v":88.4},{"s":"PCBM-P-PMMA","t":83.33,"v":88.1,"m":1},{"s":"PCBM-P-PMMA","t":85.5,"v":87.6},{"s":"PCBM-P-PMMA","t":87.5,"v":87.2},{"s":"PCBM-P-PMMA","t":89.5,"v":86.8},{"s":"PCBM-P-PMMA","t":91.67,"v":86.4,"m":1},{"s":"PCBM-P-PMMA","t":93.5,"v":86.5},{"s":"PCBM-P-PMMA","t":95.5,"v":86.3},{"s":"PCBM-P-PMMA","t":97.5,"v":86.6},{"s":"PCBM-P-PMMA","t":100,"v":86.5,"m":1},{"s":"PCBM-P-PMMA","t":102,"v":86.4},{"s":"PCBM-P-PMMA","t":104,"v":86.2},{"s":"PCBM-P-PMMA","t":106,"v":86.5},{"s":"PCBM-P-PMMA","t":108.33,"v":86.4,"m":1},{"s":"PCBM-P-PMMA","t":110.5,"v":85.9},{"s":"PCBM-P-PMMA","t":112.5,"v":85.4},{"s":"PCBM-P-PMMA","t":114.5,"v":85.1},{"s":"PCBM-P-PMMA","t":116.67,"v":84.8,"m":1},{"s":"PCBM-P-PMMA","t":118.5,"v":84.9},{"s":"PCBM-P-PMMA","t":120.5,"v":85.0},{"s":"PCBM-P-PMMA","t":122.5,"v":84.7},{"s":"PCBM-P-PMMA","t":125,"v":84.8,"m":1},{"s":"PCBM-P-PMMA","t":127,"v":84.4},{"s":"PCBM-P-PMMA","t":129,"v":84.0},{"s":"PCBM-P-PMMA","t":131,"v":83.8},{"s":"PCBM-P-PMMA","t":133.33,"v":83.6,"m":1},{"s":"PCBM-P-PMMA","t":135.5,"v":83.8},{"s":"PCBM-P-PMMA","t":137.5,"v":83.5},{"s":"PCBM-P-PMMA","t":140,"v":83.5},
{"s":"P-PMMA","t":0,"v":77.6,"m":1},{"s":"P-PMMA","t":0.3,"v":92},{"s":"P-PMMA","t":0.8,"v":98.5},{"s":"P-PMMA","t":2,"v":99.0},{"s":"P-PMMA","t":3.5,"v":98.0},{"s":"P-PMMA","t":5,"v":98.5},{"s":"P-PMMA","t":6.5,"v":97.8},{"s":"P-PMMA","t":8.33,"v":96.5,"m":1},{"s":"P-PMMA","t":9.5,"v":97.5},{"s":"P-PMMA","t":10.5,"v":98.5},{"s":"P-PMMA","t":11.5,"v":97.6},{"s":"P-PMMA","t":12.5,"v":99.2},{"s":"P-PMMA","t":13.5,"v":97.8},{"s":"P-PMMA","t":14.5,"v":98.6},{"s":"P-PMMA","t":15.5,"v":97.2},{"s":"P-PMMA","t":16.67,"v":97.6,"m":1},{"s":"P-PMMA","t":17.5,"v":98.3},{"s":"P-PMMA","t":18.5,"v":96.5},{"s":"P-PMMA","t":19.5,"v":97.8},{"s":"P-PMMA","t":20.5,"v":95.8},{"s":"P-PMMA","t":21.5,"v":97.0},{"s":"P-PMMA","t":22.5,"v":94.0},{"s":"P-PMMA","t":23.5,"v":96.5},{"s":"P-PMMA","t":25,"v":97.8,"m":1},{"s":"P-PMMA","t":26,"v":95.0},{"s":"P-PMMA","t":27,"v":96.5},{"s":"P-PMMA","t":28,"v":93.0},{"s":"P-PMMA","t":29,"v":95.0},{"s":"P-PMMA","t":30,"v":91.0},{"s":"P-PMMA","t":30.5,"v":94.5},{"s":"P-PMMA","t":31.5,"v":89.0},{"s":"P-PMMA","t":32,"v":93.8},{"s":"P-PMMA","t":33.33,"v":92.5,"m":1},{"s":"P-PMMA","t":34.5,"v":93.5},{"s":"P-PMMA","t":35.5,"v":91.8},{"s":"P-PMMA","t":36.5,"v":93.2},{"s":"P-PMMA","t":37.5,"v":88.5},{"s":"P-PMMA","t":38,"v":92.8},{"s":"P-PMMA","t":39.5,"v":91.8},{"s":"P-PMMA","t":40.5,"v":92.5},{"s":"P-PMMA","t":41.67,"v":92.7,"m":1},{"s":"P-PMMA","t":42.5,"v":91.0},{"s":"P-PMMA","t":43.5,"v":92.5},{"s":"P-PMMA","t":44.5,"v":88.0},{"s":"P-PMMA","t":45,"v":91.8},{"s":"P-PMMA","t":46.5,"v":90.5},{"s":"P-PMMA","t":47.5,"v":93.0},{"s":"P-PMMA","t":48.5,"v":90.2},{"s":"P-PMMA","t":50,"v":90.8,"m":1},{"s":"P-PMMA","t":51,"v":92.0},{"s":"P-PMMA","t":52,"v":89.5},{"s":"P-PMMA","t":53,"v":91.5},{"s":"P-PMMA","t":54,"v":88.5},{"s":"P-PMMA","t":54.5,"v":91.3},{"s":"P-PMMA","t":56,"v":90.0},{"s":"P-PMMA","t":57,"v":91.8},{"s":"P-PMMA","t":58.33,"v":91.4,"m":1},{"s":"P-PMMA","t":59.5,"v":89.8},{"s":"P-PMMA","t":60.5,"v":86.5},{"s":"P-PMMA","t":61,"v":89.8},{"s":"P-PMMA","t":62.5,"v":90.6},{"s":"P-PMMA","t":63.5,"v":88.5},{"s":"P-PMMA","t":64.5,"v":89.5},{"s":"P-PMMA","t":65.5,"v":86.0},{"s":"P-PMMA","t":66,"v":89.0},{"s":"P-PMMA","t":66.67,"v":88.5,"m":1},{"s":"P-PMMA","t":68,"v":89.5},{"s":"P-PMMA","t":69,"v":87.8},{"s":"P-PMMA","t":70,"v":89.2},{"s":"P-PMMA","t":71,"v":85.5},{"s":"P-PMMA","t":71.5,"v":88.3},{"s":"P-PMMA","t":72.3,"v":90.4},{"s":"P-PMMA","t":73,"v":89.0},{"s":"P-PMMA","t":74,"v":87.6},{"s":"P-PMMA","t":75,"v":88.7,"m":1},{"s":"P-PMMA","t":76,"v":87.5},{"s":"P-PMMA","t":77,"v":88.5},{"s":"P-PMMA","t":78,"v":84.5},{"s":"P-PMMA","t":78.5,"v":87.2},{"s":"P-PMMA","t":80,"v":87.4},{"s":"P-PMMA","t":81,"v":85.8},{"s":"P-PMMA","t":82,"v":87.0},{"s":"P-PMMA","t":83.33,"v":85.3,"m":1},{"s":"P-PMMA","t":84.5,"v":86.8},{"s":"P-PMMA","t":85.5,"v":84.0},{"s":"P-PMMA","t":86,"v":86.5},{"s":"P-PMMA","t":87.5,"v":86.0},{"s":"P-PMMA","t":88.5,"v":85.5},{"s":"P-PMMA","t":90,"v":84.8},{"s":"P-PMMA","t":90.3,"v":90.0},{"s":"P-PMMA","t":90.7,"v":84.5},{"s":"P-PMMA","t":91.67,"v":82.8,"m":1},{"s":"P-PMMA","t":93,"v":85.0},{"s":"P-PMMA","t":94.5,"v":84.2},{"s":"P-PMMA","t":95.5,"v":86.2},{"s":"P-PMMA","t":96.5,"v":83.5},{"s":"P-PMMA","t":98,"v":85.0},{"s":"P-PMMA","t":100,"v":84.1,"m":1},{"s":"P-PMMA","t":101.5,"v":85.2},{"s":"P-PMMA","t":102.5,"v":83.0},{"s":"P-PMMA","t":103.5,"v":84.6},{"s":"P-PMMA","t":105,"v":82.5},{"s":"P-PMMA","t":106,"v":84.8},{"s":"P-PMMA","t":108.33,"v":84.4,"m":1},{"s":"P-PMMA","t":109.5,"v":83.2},{"s":"P-PMMA","t":110.5,"v":84.5},{"s":"P-PMMA","t":111.5,"v":81.5},{"s":"P-PMMA","t":112,"v":84.0},{"s":"P-PMMA","t":113.5,"v":83.0},{"s":"P-PMMA","t":114.5,"v":84.2},{"s":"P-PMMA","t":115.5,"v":79.8},{"s":"P-PMMA","t":116,"v":83.5},{"s":"P-PMMA","t":116.67,"v":83.0,"m":1},{"s":"P-PMMA","t":118,"v":83.8},{"s":"P-PMMA","t":119.5,"v":82.5},{"s":"P-PMMA","t":119.8,"v":78.5},{"s":"P-PMMA","t":120.3,"v":83.0},{"s":"P-PMMA","t":121.5,"v":82.2},{"s":"P-PMMA","t":123,"v":83.0},{"s":"P-PMMA","t":125,"v":82.0,"m":1},{"s":"P-PMMA","t":126.5,"v":82.8},{"s":"P-PMMA","t":127.5,"v":80.5},{"s":"P-PMMA","t":128,"v":82.5},{"s":"P-PMMA","t":129.5,"v":81.8},{"s":"P-PMMA","t":131,"v":82.6},{"s":"P-PMMA","t":133.33,"v":82.1,"m":1},{"s":"P-PMMA","t":134.5,"v":81.4},{"s":"P-PMMA","t":135.5,"v":82.3},{"s":"P-PMMA","t":137,"v":81.0},{"s":"P-PMMA","t":138,"v":81.8},{"s":"P-PMMA","t":139,"v":80.5},{"s":"P-PMMA","t":140,"v":81.0},
{"s":"P","t":0,"v":73.1,"m":1},{"s":"P","t":0.3,"v":90},{"s":"P","t":0.8,"v":94.5},{"s":"P","t":2,"v":96.0},{"s":"P","t":3.5,"v":97.2},{"s":"P","t":5,"v":97.8},{"s":"P","t":6.5,"v":98.2},{"s":"P","t":8.33,"v":98.4,"m":1},{"s":"P","t":10,"v":98.2},{"s":"P","t":11.5,"v":97.8},{"s":"P","t":13,"v":97.2},{"s":"P","t":14.8,"v":96.6},{"s":"P","t":16.67,"v":96.1,"m":1},{"s":"P","t":18,"v":95.0},{"s":"P","t":19.5,"v":94.2},{"s":"P","t":21,"v":93.4},{"s":"P","t":22.5,"v":93.0},{"s":"P","t":23.5,"v":91.8},{"s":"P","t":25,"v":92.3,"m":1},{"s":"P","t":26.5,"v":91.5},{"s":"P","t":28,"v":90.4},{"s":"P","t":29,"v":90.9},{"s":"P","t":30,"v":89.5},{"s":"P","t":31,"v":89.9},{"s":"P","t":32,"v":88.7},{"s":"P","t":33.33,"v":88.5,"m":1},{"s":"P","t":34.5,"v":87.8},{"s":"P","t":35.5,"v":88.0},{"s":"P","t":36.5,"v":86.8},{"s":"P","t":37.5,"v":87.4},{"s":"P","t":38.5,"v":86.2},{"s":"P","t":39.5,"v":86.6},{"s":"P","t":40.5,"v":85.5},{"s":"P","t":41.67,"v":85.1,"m":1},{"s":"P","t":43,"v":85.6},{"s":"P","t":44,"v":84.6},{"s":"P","t":45,"v":85.3},{"s":"P","t":46,"v":84.3},{"s":"P","t":47,"v":84.8},{"s":"P","t":48,"v":83.8},{"s":"P","t":50,"v":83.6,"m":1},{"s":"P","t":51.5,"v":82.8},{"s":"P","t":52.5,"v":83.5},{"s":"P","t":53.5,"v":81.5},{"s":"P","t":54,"v":83.0},{"s":"P","t":55.5,"v":82.6},{"s":"P","t":56.5,"v":80.5},{"s":"P","t":57,"v":82.4},{"s":"P","t":58.33,"v":82.1,"m":1},{"s":"P","t":59.5,"v":81.5},{"s":"P","t":60.5,"v":82.3},{"s":"P","t":62,"v":81.2},{"s":"P","t":63,"v":82.0},{"s":"P","t":64.5,"v":81.6},{"s":"P","t":65.5,"v":82.5},{"s":"P","t":66.67,"v":82.5,"m":1},{"s":"P","t":68,"v":81.6},{"s":"P","t":69,"v":81.0},{"s":"P","t":70,"v":81.8},{"s":"P","t":71,"v":80.5},{"s":"P","t":72,"v":81.2},{"s":"P","t":73.5,"v":80.2},{"s":"P","t":75,"v":80.6,"m":1},{"s":"P","t":76.5,"v":80.0},{"s":"P","t":77.5,"v":80.8},{"s":"P","t":78.5,"v":79.8},{"s":"P","t":80,"v":80.5},{"s":"P","t":81,"v":79.5},{"s":"P","t":82,"v":80.2},{"s":"P","t":83.33,"v":79.6,"m":1},{"s":"P","t":84.5,"v":79.3},{"s":"P","t":85.5,"v":80.0},{"s":"P","t":86.5,"v":79.0},{"s":"P","t":87.5,"v":79.8},{"s":"P","t":88.5,"v":79.3},{"s":"P","t":90,"v":80.0},{"s":"P","t":91.67,"v":80.6,"m":1},{"s":"P","t":93,"v":79.5},{"s":"P","t":94,"v":80.0},{"s":"P","t":95,"v":79.0},{"s":"P","t":96,"v":79.8},{"s":"P","t":97,"v":79.2},{"s":"P","t":98.5,"v":79.7},{"s":"P","t":100,"v":79.6,"m":1},{"s":"P","t":101.5,"v":80.3},{"s":"P","t":102.5,"v":79.0},{"s":"P","t":103.5,"v":79.5},{"s":"P","t":104.5,"v":78.6},{"s":"P","t":105.5,"v":79.3},{"s":"P","t":107,"v":78.8},{"s":"P","t":108.33,"v":78.9,"m":1},{"s":"P","t":109.5,"v":78.5},{"s":"P","t":110.5,"v":79.0},{"s":"P","t":111.5,"v":78.2},{"s":"P","t":112.5,"v":78.8},{"s":"P","t":113.5,"v":78.0},{"s":"P","t":115,"v":78.6},{"s":"P","t":116.67,"v":78.3,"m":1},{"s":"P","t":118,"v":78.0},{"s":"P","t":119,"v":78.6},{"s":"P","t":120,"v":77.7},{"s":"P","t":121,"v":78.2},{"s":"P","t":122,"v":77.5},{"s":"P","t":123.5,"v":78.3},{"s":"P","t":125,"v":77.9,"m":1},{"s":"P","t":126.5,"v":78.0},{"s":"P","t":127.5,"v":77.3},{"s":"P","t":128.5,"v":78.2},{"s":"P","t":130,"v":77.6},{"s":"P","t":131.5,"v":78.5},{"s":"P","t":133.33,"v":78.5,"m":1},{"s":"P","t":134.5,"v":77.6},{"s":"P","t":135.5,"v":78.0},{"s":"P","t":136.5,"v":77.2},{"s":"P","t":137.5,"v":77.9},{"s":"P","t":139,"v":77.2},{"s":"P","t":140,"v":77.5}
]
},
"columns":2,
"spacing":{"row":87,"column":90},
"bounds":"flush",
"concat":[
{"width":293,"height":235,"title":{"text":"(a)","dx":-23},"data":{"name":"a"},
 "encoding":{
  "x":{"field":"t","type":"quantitative","scale":{"domain":[0,140],"nice":false},"axis":{"title":"Time (h)","values":[0,10,20,30,40,50,60,70,80,90,100,110,120,130,140],"labelExpr":"datum.value % 20 == 0 ? datum.label : ''","tickSize":{"condition":{"test":"datum.value % 20 != 0","value":2.5},"value":4.5}}},
  "y":{"field":"v","type":"quantitative","scale":{"domain":[50,110],"nice":false,"zero":false},"axis":{"title":"PCE (%)","values":[50,60,70,80,90,100,110],"labelExpr":"datum.value % 20 == 0 ? datum.label : ''","tickSize":{"condition":{"test":"datum.value % 20 != 0","value":2.5},"value":4.5}}}
 },
 "layer":[
  {"transform":[{"filter":"datum.s == 'PCBM-P-PMMA'"}],"mark":{"type":"line","color":"#0000ff","strokeWidth":1.1},"encoding":{}},
  {"transform":[{"filter":"datum.s == 'P-PMMA'"}],"mark":{"type":"line","color":"#ff0000","strokeWidth":1.1},"encoding":{}},
  {"transform":[{"filter":"datum.s == 'P'"}],"mark":{"type":"line","color":"#000000","strokeWidth":1.1},"encoding":{}},
  {"transform":[{"filter":"datum.m == 1 && datum.s == 'PCBM-P-PMMA'"}],"mark":{"type":"point","shape":"square","filled":true,"color":"#0000ff","size":64,"opacity":1},"encoding":{}},
  {"transform":[{"filter":"datum.m == 1 && datum.s == 'P-PMMA'"}],"mark":{"type":"point","shape":"circle","filled":true,"color":"#ff0000","size":72,"opacity":1},"encoding":{}},
  {"transform":[{"filter":"datum.m == 1 && datum.s == 'P'"}],"mark":{"type":"point","shape":"triangle-up","filled":true,"color":"#000000","size":72,"opacity":1},"encoding":{}},
  {"transform":[{"filter":"datum.t < 0"}],"mark":{"type":"point","filled":true,"opacity":1,"strokeWidth":1},
   "encoding":{
    "color":{"field":"s","type":"nominal","scale":{"domain":["PCBM-P-PMMA","P-PMMA","P"],"range":["#0000ff","#ff0000","#000000"]},"legend":{"orient":"none","legendX":170,"legendY":15}},
    "stroke":{"field":"s","type":"nominal","scale":{"domain":["PCBM-P-PMMA","P-PMMA","P"],"range":["#0000ff","#ff0000","#000000"]},"legend":{"orient":"none","legendX":170,"legendY":15}},
    "shape":{"field":"s","type":"nominal","scale":{"domain":["PCBM-P-PMMA","P-PMMA","P"],"range":["M-2.8,0H2.8M-0.8,-0.8H0.8V0.8H-0.8Z","M-2.8,0H2.8M0.85,0A0.85,0.85,0,1,1,-0.85,0A0.85,0.85,0,1,1,0.85,0Z","M-2.8,0H2.8M0,-0.95L0.95,0.7H-0.95Z"]},"legend":{"orient":"none","legendX":170,"legendY":15}}
   }}
 ]},
{"width":293,"height":235,"title":{"text":"(b)","dx":-36},"data":{"name":"b"},
 "encoding":{
  "x":{"field":"t","type":"quantitative","scale":{"domain":[0,140],"nice":false},"axis":{"title":"Time (h)","values":[0,10,20,30,40,50,60,70,80,90,100,110,120,130,140],"labelExpr":"datum.value % 20 == 0 ? datum.label : ''","tickSize":{"condition":{"test":"datum.value % 20 != 0","value":2.5},"value":4.5}}},
  "y":{"field":"v","type":"quantitative","scale":{"domain":[50,110],"nice":false,"zero":false},"axis":{"title":"Jsc (mA/cm²)","values":[50,60,70,80,90,100,110],"labelExpr":"datum.value % 20 == 0 ? datum.label : ''","tickSize":{"condition":{"test":"datum.value % 20 != 0","value":2.5},"value":4.5}}}
 },
 "layer":[
  {"transform":[{"filter":"datum.s == 'PCBM-P-PMMA'"}],"mark":{"type":"line","color":"#0000ff","strokeWidth":1.1},"encoding":{}},
  {"transform":[{"filter":"datum.s == 'P-PMMA'"}],"mark":{"type":"line","color":"#ff0000","strokeWidth":1.1},"encoding":{}},
  {"transform":[{"filter":"datum.s == 'P'"}],"mark":{"type":"line","color":"#000000","strokeWidth":1.1},"encoding":{}},
  {"transform":[{"filter":"datum.m == 1 && datum.s == 'PCBM-P-PMMA'"}],"mark":{"type":"point","shape":"square","filled":true,"color":"#0000ff","size":64,"opacity":1},"encoding":{}},
  {"transform":[{"filter":"datum.m == 1 && datum.s == 'P-PMMA'"}],"mark":{"type":"point","shape":"circle","filled":true,"color":"#ff0000","size":72,"opacity":1},"encoding":{}},
  {"transform":[{"filter":"datum.m == 1 && datum.s == 'P'"}],"mark":{"type":"point","shape":"triangle-up","filled":true,"color":"#000000","size":72,"opacity":1},"encoding":{}},
  {"transform":[{"filter":"datum.t < 0"}],"mark":{"type":"point","filled":true,"opacity":1,"strokeWidth":1},
   "encoding":{
    "color":{"field":"s","type":"nominal","scale":{"domain":["PCBM-P-PMMA","P-PMMA","P"],"range":["#0000ff","#ff0000","#000000"]},"legend":{"orient":"none","legendX":165,"legendY":140}},
    "stroke":{"field":"s","type":"nominal","scale":{"domain":["PCBM-P-PMMA","P-PMMA","P"],"range":["#0000ff","#ff0000","#000000"]},"legend":{"orient":"none","legendX":165,"legendY":140}},
    "shape":{"field":"s","type":"nominal","scale":{"domain":["PCBM-P-PMMA","P-PMMA","P"],"range":["M-2.8,0H2.8M-0.8,-0.8H0.8V0.8H-0.8Z","M-2.8,0H2.8M0.85,0A0.85,0.85,0,1,1,-0.85,0A0.85,0.85,0,1,1,0.85,0Z","M-2.8,0H2.8M0,-0.95L0.95,0.7H-0.95Z"]},"legend":{"orient":"none","legendX":165,"legendY":140}}
   }}
 ]},
{"width":293,"height":235,"title":{"text":"(c)","dx":-23},"data":{"name":"c"},
 "encoding":{
  "x":{"field":"t","type":"quantitative","scale":{"domain":[0,140],"nice":false},"axis":{"title":"Time (h)","values":[0,10,20,30,40,50,60,70,80,90,100,110,120,130,140],"labelExpr":"datum.value % 20 == 0 ? datum.label : ''","tickSize":{"condition":{"test":"datum.value % 20 != 0","value":2.5},"value":4.5}}},
  "y":{"field":"v","type":"quantitative","scale":{"domain":[50,110],"nice":false,"zero":false},"axis":{"title":"Vᴏᴄ (V)","values":[50,60,70,80,90,100,110],"labelExpr":"datum.value % 20 == 0 ? datum.label : ''","tickSize":{"condition":{"test":"datum.value % 20 != 0","value":2.5},"value":4.5}}}
 },
 "layer":[
  {"transform":[{"filter":"datum.s == 'PCBM-P-PMMA'"}],"mark":{"type":"line","color":"#0000ff","strokeWidth":1.1},"encoding":{}},
  {"transform":[{"filter":"datum.s == 'P-PMMA'"}],"mark":{"type":"line","color":"#ff0000","strokeWidth":1.1},"encoding":{}},
  {"transform":[{"filter":"datum.s == 'P'"}],"mark":{"type":"line","color":"#000000","strokeWidth":1.1},"encoding":{}},
  {"transform":[{"filter":"datum.m == 1 && datum.s == 'PCBM-P-PMMA'"}],"mark":{"type":"point","shape":"square","filled":true,"color":"#0000ff","size":64,"opacity":1},"encoding":{}},
  {"transform":[{"filter":"datum.m == 1 && datum.s == 'P-PMMA'"}],"mark":{"type":"point","shape":"circle","filled":true,"color":"#ff0000","size":72,"opacity":1},"encoding":{}},
  {"transform":[{"filter":"datum.m == 1 && datum.s == 'P'"}],"mark":{"type":"point","shape":"triangle-up","filled":true,"color":"#000000","size":72,"opacity":1},"encoding":{}},
  {"transform":[{"filter":"datum.t < 0"}],"mark":{"type":"point","filled":true,"opacity":1,"strokeWidth":1},
   "encoding":{
    "color":{"field":"s","type":"nominal","scale":{"domain":["PCBM-P-PMMA","P-PMMA","P"],"range":["#0000ff","#ff0000","#000000"]},"legend":{"orient":"none","legendX":165,"legendY":133}},
    "stroke":{"field":"s","type":"nominal","scale":{"domain":["PCBM-P-PMMA","P-PMMA","P"],"range":["#0000ff","#ff0000","#000000"]},"legend":{"orient":"none","legendX":165,"legendY":133}},
    "shape":{"field":"s","type":"nominal","scale":{"domain":["PCBM-P-PMMA","P-PMMA","P"],"range":["M-2.8,0H2.8M-0.8,-0.8H0.8V0.8H-0.8Z","M-2.8,0H2.8M0.85,0A0.85,0.85,0,1,1,-0.85,0A0.85,0.85,0,1,1,0.85,0Z","M-2.8,0H2.8M0,-0.95L0.95,0.7H-0.95Z"]},"legend":{"orient":"none","legendX":165,"legendY":133}}
   }}
 ]},
{"width":293,"height":235,"title":{"text":"(d)","dx":-36},"data":{"name":"d"},
 "encoding":{
  "x":{"field":"t","type":"quantitative","scale":{"domain":[0,140],"nice":false},"axis":{"title":"Time (h)","values":[0,10,20,30,40,50,60,70,80,90,100,110,120,130,140],"labelExpr":"datum.value % 20 == 0 ? datum.label : ''","tickSize":{"condition":{"test":"datum.value % 20 != 0","value":2.5},"value":4.5}}},
  "y":{"field":"v","type":"quantitative","scale":{"domain":[50,110],"nice":false,"zero":false},"axis":{"title":"FF (%)","values":[50,60,70,80,90,100,110],"labelExpr":"datum.value % 20 == 0 ? datum.label : ''","tickSize":{"condition":{"test":"datum.value % 20 != 0","value":2.5},"value":4.5}}}
 },
 "layer":[
  {"transform":[{"filter":"datum.s == 'PCBM-P-PMMA'"}],"mark":{"type":"line","color":"#0000ff","strokeWidth":1.1},"encoding":{}},
  {"transform":[{"filter":"datum.s == 'P-PMMA'"}],"mark":{"type":"line","color":"#ff0000","strokeWidth":1.1},"encoding":{}},
  {"transform":[{"filter":"datum.s == 'P'"}],"mark":{"type":"line","color":"#000000","strokeWidth":1.1},"encoding":{}},
  {"transform":[{"filter":"datum.m == 1 && datum.s == 'PCBM-P-PMMA'"}],"mark":{"type":"point","shape":"square","filled":true,"color":"#0000ff","size":64,"opacity":1},"encoding":{}},
  {"transform":[{"filter":"datum.m == 1 && datum.s == 'P-PMMA'"}],"mark":{"type":"point","shape":"circle","filled":true,"color":"#ff0000","size":72,"opacity":1},"encoding":{}},
  {"transform":[{"filter":"datum.m == 1 && datum.s == 'P'"}],"mark":{"type":"point","shape":"triangle-up","filled":true,"color":"#000000","size":72,"opacity":1},"encoding":{}},
  {"transform":[{"filter":"datum.t < 0"}],"mark":{"type":"point","filled":true,"opacity":1,"strokeWidth":1},
   "encoding":{
    "color":{"field":"s","type":"nominal","scale":{"domain":["PCBM-P-PMMA","P-PMMA","P"],"range":["#0000ff","#ff0000","#000000"]},"legend":{"orient":"none","legendX":165,"legendY":135}},
    "stroke":{"field":"s","type":"nominal","scale":{"domain":["PCBM-P-PMMA","P-PMMA","P"],"range":["#0000ff","#ff0000","#000000"]},"legend":{"orient":"none","legendX":165,"legendY":135}},
    "shape":{"field":"s","type":"nominal","scale":{"domain":["PCBM-P-PMMA","P-PMMA","P"],"range":["M-2.8,0H2.8M-0.8,-0.8H0.8V0.8H-0.8Z","M-2.8,0H2.8M0.85,0A0.85,0.85,0,1,1,-0.85,0A0.85,0.85,0,1,1,0.85,0Z","M-2.8,0H2.8M0,-0.95L0.95,0.7H-0.95Z"]},"legend":{"orient":"none","legendX":165,"legendY":135}}
   }}
 ]}
]
}
